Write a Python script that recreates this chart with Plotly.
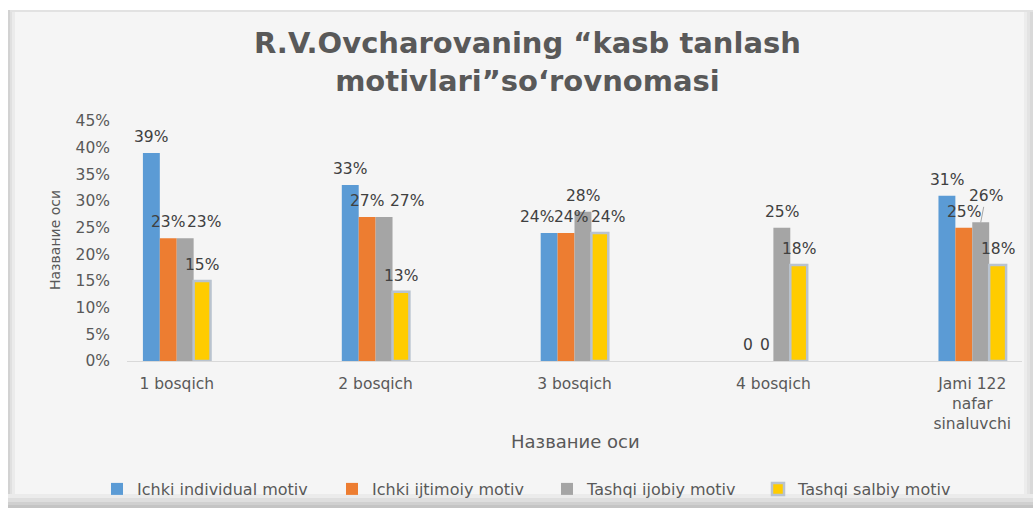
import plotly.graph_objects as go

# ---- data ----
categories = ["1 bosqich", "2 bosqich", "3 bosqich", "4 bosqich", "Jami 122<br>nafar<br>sinaluvchi"]
series_names = ["Ichki individual motiv", "Ichki ijtimoiy motiv", "Tashqi ijobiy motiv", "Tashqi salbiy motiv"]
ichki_individual = [39, 33, 24, 0, 31]
ichki_ijtimoiy = [23, 27, 24, 0, 25]
tashqi_ijobiy = [23, 27, 28, 25, 26]
tashqi_salbiy = [15, 13, 24, 18, 18]
y_ticks = [0, 5, 10, 15, 20, 25, 30, 35, 40, 45]

series_values = [ichki_individual, ichki_ijtimoiy, tashqi_ijobiy, tashqi_salbiy]

# ---- styling ----
colors = ["#5b9bd5", "#ed7d31", "#a5a5a5", "#ffcc00"]
line_colors = ["#5b9bd5", "#ed7d31", "#a5a5a5", "#b9c3cf"]
line_widths = [0, 0, 0, 2.5]
legend_left_px = [97, 332, 547, 758]
# manual nudges of a few data labels (series index, category index) -> (dx px, extra dy px)
label_nudge = {(2, 0): (19, 0), (2, 1): (23, 0), (0, 2): (-12, 0), (1, 2): (5, 0),
               (3, 2): (8, 0), (2, 4): (5, 10)}

FONT = "DejaVu Sans"
TXT = "#595959"

# plot area geometry (pixels)
L, R, T, B = 127, 11, 121, 147
W, H = 1033, 508
pw, ph = W - L - R, H - T - B


def px(x):
    return (x - L) / pw


def py(y):
    return (H - B - y) / ph


fig = go.Figure()
legend_layout = {}
for k, (name, vals, c, lc, lw) in enumerate(zip(series_names, series_values, colors, line_colors, line_widths)):
    lg = "legend" if k == 0 else f"legend{k + 1}"
    fig.add_trace(go.Bar(
        x=categories, y=[v / 100 for v in vals], name=name, legend=lg,
        marker=dict(color=c, line=dict(color=lc, width=lw)),
        hoverinfo="skip",
    ))
    legend_layout[lg] = dict(x=px(legend_left_px[k]), y=py(489), xanchor="left", yanchor="middle",
                             orientation="h", font=dict(family=FONT, size=16, color=TXT),
                             bgcolor="rgba(0,0,0,0)", itemclick=False)

# data labels
cat_px = pw / 4.5
bar_px = cat_px * 0.34 / 4
annotations = []
for i, vals in enumerate(series_values):
    for j, v in enumerate(vals):
        dx, dy = label_nudge.get((i, j), (0, 0))
        base = dict(x=categories[j], y=v / 100, xref="x", yref="y",
                    text=f"{v}%" if v else "0",
                    font=dict(family=FONT, size=15.5, color="#404040"))
        if dy:
            annotations.append(dict(base, showarrow=True, arrowhead=0, arrowwidth=1,
                                    arrowcolor="#a6a6a6", standoff=0,
                                    xshift=(i - 1.5) * bar_px, ax=dx, ay=-(16 + dy)))
        else:
            annotations.append(dict(base, showarrow=False,
                                    xshift=(i - 1.5) * bar_px + dx, yshift=16))

# axis titles
annotations.append(dict(x=px(575), y=py(441), xref="paper", yref="paper", text="Название оси",
                        showarrow=False, xanchor="center", yanchor="middle",
                        font=dict(family=FONT, size=18, color=TXT)))
annotations.append(dict(x=px(55), y=py(240), xref="paper", yref="paper", text="Название оси",
                        showarrow=False, textangle=-90, xanchor="center", yanchor="middle",
                        font=dict(family=FONT, size=14, color=TXT)))

# chart title
annotations.append(dict(x=px(527), y=py(62), xref="paper", yref="paper",
                        text="<b>R.V.Ovcharovaning “kasb tanlash<br>motivlari”so‘rovnomasi</b>",
                        showarrow=False, align="center", xanchor="center", yanchor="middle",
                        font=dict(family=FONT, size=29, color=TXT)))


def prect(x0, y0, x1, y1, color):
    return dict(type="rect", xref="paper", yref="paper", x0=px(x0), x1=px(x1), y0=py(y1), y1=py(y0),
                fillcolor=color, line=dict(width=0), layer="below")


# chart-area panel with bevelled / shadowed edges
shapes = [
    prect(8, 10, 1033, 508, "#f5f5f5"),
    prect(8, 10, 1033, 12, "#e2e2e2"),
    prect(8, 10, 10, 508, "#d2d2d2"),
    prect(10, 12, 12, 508, "#e0e0e0"),
    prect(12, 12, 15, 508, "#ebebeb"),
    prect(1024, 12, 1027, 508, "#ececec"),
    prect(1027, 12, 1030, 508, "#e3e3e3"),
    prect(1030, 12, 1033, 508, "#d9d9d9"),
    prect(8, 494, 1033, 498, "#ebebeb"),
    prect(8, 498, 1033, 502, "#dedede"),
    prect(8, 502, 1033, 505, "#d0d0d0"),
    prect(8, 505, 1033, 508, "#c4c4c4"),
]

fig.update_layout(
    width=W, height=H,
    margin=dict(l=L, r=R, t=T, b=B, pad=0, autoexpand=False),
    paper_bgcolor="white", plot_bgcolor="rgba(0,0,0,0)",
    barmode="group", bargap=0.66, bargroupgap=0,
    font=dict(family=FONT, size=15, color=TXT),
    annotations=annotations, shapes=shapes,
    showlegend=True,
    xaxis=dict(range=[-0.25, 4.25], showgrid=False, showline=True, linecolor="#d9d9d9", linewidth=1,
               ticks="", ticklabelstandoff=8, tickfont=dict(family=FONT, size=15.5, color=TXT),
               zeroline=False, fixedrange=True, automargin=False),
    yaxis=dict(range=[0, 0.45], tickvals=[t / 100 for t in y_ticks], tickformat=".0%",
               showgrid=False, showline=False, zeroline=False, ticks="", ticklabelstandoff=16,
               tickfont=dict(family=FONT, size=15.5, color=TXT), fixedrange=True, automargin=False),
    **legend_layout,
)

fig.write_html("out.html", config={"displayModeBar": False},
               post_script="document.body.style.margin='0';document.body.style.overflow='hidden';")
